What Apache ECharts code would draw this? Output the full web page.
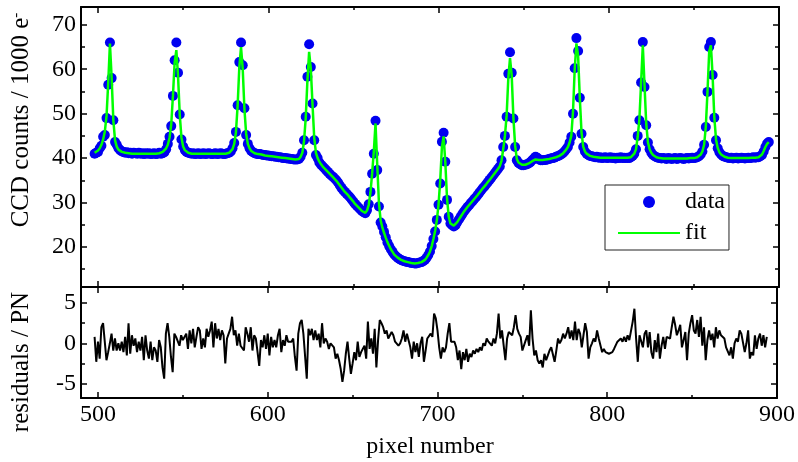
<!DOCTYPE html>
<html><head><meta charset="utf-8">
<script src="https://cdn.jsdelivr.net/npm/echarts@6/dist/echarts.min.js"></script>
<style>html,body{margin:0;padding:0;background:#fff}#c{width:798px;height:462px}</style>
</head><body><div id="c"></div>
<script>
// first CCD pixel number of the data arrays (one value per pixel)
const firstPixel = 498;

// measured CCD counts / 1000 e-
const ccdCounts = [
41.0, 41.2,
41.4, 42.2, 42.8, 44.8, 45.2, 49.0, 56.5, 66.0, 58.0, 48.5,
43.6, 43.0, 42.2, 41.8, 41.5, 41.4, 41.2, 41.3, 41.1, 41.2,
41.0, 41.2, 41.1, 41.0, 41.2, 41.0, 41.1, 40.9, 41.1, 41.0,
41.1, 40.9, 41.0, 41.1, 40.9, 41.0, 41.2, 41.0, 41.1, 41.3,
42.0, 43.2, 44.8, 47.2, 54.0, 62.0, 66.0, 59.2, 49.8, 44.2,
42.6, 41.8, 41.4, 41.2, 41.1, 41.0, 41.1, 40.9, 41.0, 41.1,
40.9, 41.0, 41.1, 40.9, 41.0, 41.1, 41.0, 40.9, 41.0, 41.1,
40.9, 41.0, 41.1, 41.0, 40.9, 41.0, 41.1, 41.2, 41.5, 42.2,
43.4, 45.9, 51.9, 61.6, 66.0, 60.9, 51.2, 45.2, 43.2, 42.2,
41.6, 41.3, 41.1, 41.0, 40.9, 40.9, 40.8, 40.7, 40.7, 40.6,
40.6, 40.5, 40.4, 40.4, 40.3, 40.3, 40.2, 40.2, 40.1, 40.0,
40.0, 39.9, 39.9, 39.8, 39.8, 39.7, 39.7, 39.7, 39.8, 40.3,
41.2, 44.0, 49.3, 58.3, 65.6, 60.5, 52.3, 44.0, 40.7, 40.0,
39.0, 38.5, 38.1, 37.7, 37.3, 36.9, 36.5, 36.1, 35.8, 35.4,
35.0, 34.5, 33.9, 33.3, 32.8, 32.4, 32.0, 31.6, 31.2, 30.7,
30.2, 29.7, 29.3, 28.9, 28.5, 28.1, 27.8, 27.6, 28.3, 29.6,
32.4, 36.5, 41.0, 48.4, 37.3, 29.1, 25.5, 24.6, 23.4, 22.2,
21.0, 20.2, 19.5, 18.9, 18.3, 17.9, 17.6, 17.3, 17.1, 16.9,
16.8, 16.7, 16.6, 16.5, 16.4, 16.4, 16.3, 16.3, 16.4, 16.5,
16.6, 16.8, 17.1, 17.6, 18.2, 19.0, 20.2, 21.8, 23.5, 26.1,
29.5, 34.3, 43.7, 45.7, 39.2, 30.6, 26.8, 25.3, 24.9, 24.6,
24.9, 25.6, 26.2, 26.8, 27.4, 28.0, 28.5, 29.0, 29.4, 29.9,
30.3, 30.8, 31.2, 31.7, 32.2, 32.7, 33.2, 33.6, 34.1, 34.6,
35.1, 35.6, 36.1, 36.6, 37.1, 37.6, 38.1, 39.5, 42.5, 45.0,
49.3, 59.0, 63.8, 59.2, 48.9, 42.5, 39.5, 38.9, 38.6, 38.4,
38.4, 38.5, 38.6, 38.8, 39.1, 39.5, 39.9, 40.3, 40.1, 39.7,
39.5, 39.5, 39.6, 39.6, 39.7, 39.8, 39.9, 40.0, 40.1, 40.3,
40.4, 40.6, 40.8, 41.1, 41.5, 42.0, 42.5, 43.5, 44.8, 50.0,
60.2, 67.0, 64.1, 53.6, 45.5, 42.5, 41.5, 41.0, 40.7, 40.5,
40.4, 40.3, 40.2, 40.3, 40.1, 40.2, 40.0, 40.1, 40.2, 40.0,
40.1, 40.2, 40.0, 40.1, 39.9, 40.1, 40.0, 40.2, 40.0, 40.1,
40.0, 40.1, 40.0, 40.2, 40.5, 41.0, 42.0, 45.0, 48.5, 57.0,
66.1, 56.0, 47.4, 43.5, 42.0, 41.2, 40.7, 40.4, 40.2, 40.1,
40.0, 39.9, 40.0, 39.9, 39.8, 40.0, 39.9, 39.8, 39.9, 40.0,
39.8, 39.9, 40.0, 39.9, 39.8, 39.9, 40.0, 39.9, 40.0, 40.1,
40.0, 40.1, 40.2, 40.4, 40.8, 41.5, 43.0, 47.0, 54.9, 65.0,
66.1, 58.7, 49.1, 44.0, 42.2, 41.3, 40.8, 40.5, 40.3, 40.2,
40.1, 40.0, 40.1, 39.9, 40.0, 40.1, 39.9, 40.0, 40.1, 40.0,
39.9, 40.0, 40.1, 40.0, 40.1, 40.2, 40.1, 40.2, 40.2, 40.4,
40.7, 41.5, 42.5, 43.3, 43.6
];

// fitted curve, same pixels
const fitCounts = [
41.2, 41.4,
41.7, 42.2, 43.0, 44.2, 46.0, 49.5, 57.0, 65.8, 58.0, 48.5,
44.0, 42.6, 41.9, 41.6, 41.4, 41.3, 41.2, 41.1, 41.1, 41.0,
41.0, 41.0, 41.0, 41.0, 41.0, 41.0, 41.0, 41.0, 41.0, 41.0,
41.0, 41.0, 41.0, 41.0, 41.0, 41.0, 41.1, 41.2, 41.4, 41.7,
42.2, 43.0, 44.6, 47.6, 54.0, 61.5, 64.3, 58.5, 49.8, 44.6,
42.6, 41.8, 41.4, 41.2, 41.1, 41.0, 41.0, 41.0, 41.0, 41.0,
41.0, 41.0, 41.0, 41.0, 41.0, 41.0, 41.0, 41.0, 41.0, 41.0,
41.0, 41.0, 41.0, 41.0, 41.0, 41.0, 41.1, 41.2, 41.5, 42.0,
43.2, 45.8, 51.8, 60.5, 65.0, 60.0, 51.0, 45.5, 43.2, 42.2,
41.6, 41.3, 41.1, 41.0, 40.9, 40.8, 40.8, 40.7, 40.6, 40.6,
40.5, 40.5, 40.4, 40.4, 40.3, 40.3, 40.2, 40.2, 40.1, 40.0,
40.0, 39.9, 39.9, 39.8, 39.8, 39.7, 39.7, 39.7, 39.8, 40.3,
41.2, 43.8, 49.0, 57.5, 63.9, 60.0, 52.0, 44.5, 41.2, 40.0,
39.2, 38.6, 38.1, 37.7, 37.3, 36.9, 36.5, 36.1, 35.7, 35.3,
34.9, 34.4, 33.9, 33.4, 32.9, 32.4, 32.0, 31.6, 31.1, 30.7,
30.2, 29.7, 29.3, 28.9, 28.5, 28.1, 27.8, 27.7, 28.2, 29.5,
32.2, 36.5, 41.5, 47.8, 38.5, 30.0, 26.0, 24.4, 23.2, 22.1,
21.1, 20.3, 19.5, 18.9, 18.3, 17.9, 17.6, 17.3, 17.1, 16.9,
16.8, 16.7, 16.6, 16.5, 16.4, 16.4, 16.3, 16.3, 16.4, 16.5,
16.6, 16.8, 17.1, 17.6, 18.2, 19.0, 20.2, 21.8, 23.6, 26.0,
29.5, 35.0, 42.5, 44.9, 39.0, 31.0, 26.8, 25.3, 24.9, 24.8,
25.0, 25.6, 26.2, 26.8, 27.4, 28.0, 28.5, 29.0, 29.4, 29.9,
30.3, 30.8, 31.2, 31.7, 32.2, 32.7, 33.2, 33.6, 34.1, 34.6,
35.1, 35.6, 36.1, 36.6, 37.1, 37.6, 38.2, 39.4, 42.0, 45.0,
49.5, 58.0, 62.5, 58.5, 49.0, 42.8, 39.8, 39.0, 38.7, 38.5,
38.5, 38.5, 38.6, 38.8, 39.0, 39.3, 39.5, 39.7, 39.7, 39.6,
39.6, 39.6, 39.6, 39.7, 39.7, 39.8, 39.9, 40.0, 40.1, 40.2,
40.3, 40.5, 40.7, 41.0, 41.4, 41.9, 42.5, 43.5, 45.0, 50.5,
60.0, 65.8, 63.0, 53.5, 45.8, 42.6, 41.5, 41.0, 40.7, 40.5,
40.4, 40.3, 40.2, 40.2, 40.1, 40.1, 40.1, 40.1, 40.1, 40.1,
40.1, 40.1, 40.1, 40.1, 40.1, 40.1, 40.1, 40.1, 40.1, 40.1,
40.1, 40.1, 40.1, 40.2, 40.5, 41.0, 42.0, 44.8, 48.8, 57.0,
65.4, 56.5, 47.8, 43.6, 42.0, 41.2, 40.7, 40.4, 40.2, 40.1,
40.0, 40.0, 39.9, 39.9, 39.9, 39.9, 39.9, 39.9, 39.9, 39.9,
39.9, 39.9, 39.9, 39.9, 39.9, 39.9, 39.9, 39.9, 40.0, 40.0,
40.0, 40.1, 40.2, 40.4, 40.8, 41.5, 43.0, 47.0, 55.0, 64.0,
65.4, 58.5, 49.2, 44.2, 42.3, 41.3, 40.8, 40.5, 40.3, 40.2,
40.1, 40.0, 40.0, 40.0, 40.0, 40.0, 40.0, 40.0, 40.0, 40.0,
40.0, 40.0, 40.0, 40.0, 40.1, 40.1, 40.1, 40.2, 40.2, 40.4,
40.8, 41.6, 42.5, 43.2, 43.6
];

// residuals / PN, same pixels
const residuals = [
0.8,-2.3,0.2,-1.9,2.0,2.5,2.7,-2.1,-1.1,0,
1.2,-0.9,0.6,-0.9,0,-0.9,0.2,-1.1,0.8,-1.5,
2.5,-1.3,1.0,-0.3,0.6,-1.1,0.2,-0.9,0.8,-2.1,
1.0,-0.9,-1.9,0.2,-2.1,-0.5,-0.9,-2.3,0.4,-0.5,
-3.0,-4.4,1.2,2.5,0.8,-1.7,-3.6,1.2,0.8,1.0,
-0.3,1.0,0.4,0.8,1.2,-0.7,1.6,0,1.8,-0.5,
0.8,2.0,1.6,-0.7,0.6,-0.5,1.8,0.8,1.6,2.7,
-0.5,2.5,0.6,1.8,0.4,1.6,1.0,-2.5,0.6,1.2,
1.8,3.3,1.0,1.6,-0.3,1.2,-0.3,-0.5,-0.9,2.0,
1.2,0.2,2.0,-0.9,1.0,0.6,0.4,-2.8,0.4,-0.5,
1.0,-0.7,1.2,-1.5,0.8,-0.5,0.4,-0.5,1.0,1.8,
-1.1,0.4,-0.3,1.0,0.2,0.4,0.2,0.6,-1.7,-3.4,
1.2,2.5,2.9,1.2,1.4,-4.4,1.8,1.0,1.8,0.4,
1.6,0.4,1.2,-0.5,2.5,0,0.6,0.2,-0.7,0,
0.2,-0.5,-1.9,-1.3,-2.1,-3.2,-4.8,-3.4,-1.3,0.2,
-1.9,-3.8,-2.5,-1.1,-2.1,0.2,-1.7,-1.1,-1.3,-0.3,
-1.9,2.7,-0.7,0.6,-1.3,1.8,-3.0,0.4,2.9,2.5,
2.0,1.2,1.6,0.6,0.8,1.4,1.0,0.2,0.4,-0.3,
0,0.6,1.6,0.2,1.2,1.0,-0.5,-1.9,0.2,-1.1,
0,-1.7,0,0.8,-2.3,-0.9,0.6,0.4,1.2,0.8,
3.7,3.1,
1.6,-0.5,-1.9,-0.5,-1.1,-0.5,1.2,2.5,0.2,0.4,
0.2,-0.5,-2.1,-0.9,-3.2,-1.1,-2.1,-0.7,-2.3,-1.3,
-1.7,-0.9,-1.3,-0.7,-1.1,-0.5,-0.9,0,-0.3,0.6,
0.2,0.4,-0.3,0.6,0,1.2,3.7,0.6,1.6,-0.3,
-2.1,0.6,1.4,1.6,1.0,2.0,3.5,1.8,1.2,0.8,
-0.9,-1.1,0.4,1.0,-0.3,4.1,0.6,-1.5,-0.9,-2.1,
-2.5,-2.1,-3.0,-1.3,-2.1,-1.5,-0.9,-0.5,-0.7,-2.3,
-0.9,0.6,0,0.4,1.2,0.6,1.2,2.0,0.6,1.6,
0.4,2.7,0.4,1.8,1.2,-0.5,1.0,2.5,1.4,-1.9,
-0.5,0,0.6,0.2,1.6,0.6,0.6,-1.1,-0.7,-1.1,
-0.9,-1.3,-1.1,-1.1,-0.7,-0.5,0.2,0,0.6,0.2,
0.8,0.2,1.0,0.4,0.2,2.7,4.3,0.6,-2.3,1.0,
1.0,-0.5,1.2,1.6,-0.5,1.4,-1.1,-1.9,0.4,-1.1,
1.2,-1.9,-0.3,0.8,-0.7,0.8,1.0,0.6,2.0,3.3,
2.3,1.0,1.6,2.3,-0.5,0.4,1.4,-2.1,1.2,2.5,
3.5,1.6,1.2,2.9,0.8,3.3,-0.3,2.0,-2.1,0.4,
1.6,0.4,1.2,-0.5,2.0,0.6,1.6,1.0,1.2,0.6,
-0.5,-0.3,-1.5,-0.5,-1.9,0,0.6,0.2,1.6,1.2,
1.4,-1.1,0,1.6,-1.9,-1.1,-1.5,1.0,-0.7,0.6,
1.2,-0.3,1.0,-0.5,0.8
];

// axis ticks
const xTicks = [500, 600, 700, 800, 900];
const xMinorTicks = [550, 650, 750, 850];
const countTicks = [20, 30, 40, 50, 60, 70];
const countMinorTicks = [15, 25, 35, 45, 55, 65];
const residTicks = [-5, 0, 5];
const residMinorTicks = [-2.5, 2.5];

const FONT = 'Liberation Serif';
const X_MIN = 490, X_MAX = 900;
const Y1_MIN = 11, Y1_MAX = 74;
const Y2_MIN = -6.8, Y2_MAX = 7;

function mkAxis(gridIndex, position, min, max, ticks, len, showLine, labels) {
  return {
    type: 'value', gridIndex: gridIndex, position: position, min: min, max: max,
    axisLine: { show: showLine, onZero: false, lineStyle: { color: '#000', width: 2 } },
    axisTick: { show: true, inside: true, length: len, customValues: ticks,
                lineStyle: { color: '#000', width: 1.5 } },
    axisLabel: labels ? { show: true, customValues: ticks, fontFamily: FONT, fontSize: 24,
                          color: '#000', margin: 5 } : { show: false },
    splitLine: { show: false }
  };
}

const xAxes = [
  mkAxis(0, 'bottom', X_MIN, X_MAX, xTicks, 6, true, false),
  mkAxis(0, 'bottom', X_MIN, X_MAX, xMinorTicks, 3, false, false),
  mkAxis(0, 'top', X_MIN, X_MAX, xTicks, 6, true, false),
  mkAxis(0, 'top', X_MIN, X_MAX, xMinorTicks, 3, false, false),
  mkAxis(1, 'bottom', X_MIN, X_MAX, xTicks, 6, true, true),
  mkAxis(1, 'bottom', X_MIN, X_MAX, xMinorTicks, 3, false, false),
  mkAxis(1, 'top', X_MIN, X_MAX, xTicks, 6, true, false),
  mkAxis(1, 'top', X_MIN, X_MAX, xMinorTicks, 3, false, false)
];
xAxes[4].axisLabel.margin = 5;
const yAxes = [
  mkAxis(0, 'left', Y1_MIN, Y1_MAX, countTicks, 6, true, true),
  mkAxis(0, 'left', Y1_MIN, Y1_MAX, countMinorTicks, 4, false, false),
  mkAxis(0, 'right', Y1_MIN, Y1_MAX, countTicks, 6, true, false),
  mkAxis(0, 'right', Y1_MIN, Y1_MAX, countMinorTicks, 4, false, false),
  mkAxis(1, 'left', Y2_MIN, Y2_MAX, residTicks, 6, true, true),
  mkAxis(1, 'left', Y2_MIN, Y2_MAX, residMinorTicks, 4, false, false),
  mkAxis(1, 'right', Y2_MIN, Y2_MAX, residTicks, 6, true, false),
  mkAxis(1, 'right', Y2_MIN, Y2_MAX, residMinorTicks, 4, false, false)
];

const dataPts = ccdCounts.map((v, i) => [firstPixel + i, v]);
const fitPts = fitCounts.map((v, i) => [firstPixel + i, v]);
const resPts = residuals.map((v, i) => [firstPixel + i, v]);

const chart = echarts.init(document.getElementById('c'), null, { renderer: 'canvas' });
chart.setOption({
  animation: false,
  backgroundColor: '#fff',
  grid: [
    { left: 81, right: 19, top: 7, height: 280, containLabel: false },
    { left: 81, right: 19, top: 287, height: 111, containLabel: false }
  ],
  xAxis: xAxes,
  yAxis: yAxes,
  legend: {
    data: [
      { name: 'data', icon: 'circle' },
      { name: 'fit', itemStyle: { opacity: 0 } }
    ],
    orient: 'vertical', left: 605, top: 185,
    itemWidth: 62, itemHeight: 12, itemGap: 5,
    padding: [4, 4, 4, 12],
    borderColor: '#222', borderWidth: 1, backgroundColor: '#fff',
    selectedMode: false,
    textStyle: { fontFamily: FONT, fontSize: 24, color: '#000', lineHeight: 26 }
  },
  graphic: [
    { type: 'text', x: 21, y: 120, rotation: Math.PI / 2,
      style: { text: '{a|CCD counts / 1000 e}{s|-}', textAlign: 'center', textVerticalAlign: 'middle',
        rich: { a: { fontFamily: FONT, fontSize: 25, fill: '#000', color: '#000' },
                s: { fontFamily: FONT, fontSize: 15, fill: '#000', color: '#000', verticalAlign: 'top', padding: [0,0,8,0] } } } },
    { type: 'text', x: 21, y: 362, rotation: Math.PI / 2,
      style: { text: 'residuals / PN', font: '25px "Liberation Serif"', fill: '#000',
               textAlign: 'center', textVerticalAlign: 'middle' } },
    { type: 'text', x: 430, y: 447,
      style: { text: 'pixel number', font: '24px "Liberation Serif"', fill: '#000',
               textAlign: 'center', textVerticalAlign: 'middle' } }
  ],
  series: [
    { name: 'data', type: 'scatter', xAxisIndex: 0, yAxisIndex: 0, data: dataPts,
      symbol: 'circle', symbolSize: 10, itemStyle: { color: '#0000f0', opacity: 1 }, z: 2 },
    { name: 'fit', type: 'line', xAxisIndex: 0, yAxisIndex: 0, data: fitPts,
      symbol: 'none', showSymbol: false, lineStyle: { color: '#00ff00', width: 2.5 },
      itemStyle: { color: '#00ff00' }, z: 3 },
    { name: 'residuals', type: 'line', xAxisIndex: 4, yAxisIndex: 4, data: resPts,
      symbol: 'none', showSymbol: false, lineStyle: { color: '#000', width: 2 }, z: 3 }
  ]
});
</script>
</body></html>
